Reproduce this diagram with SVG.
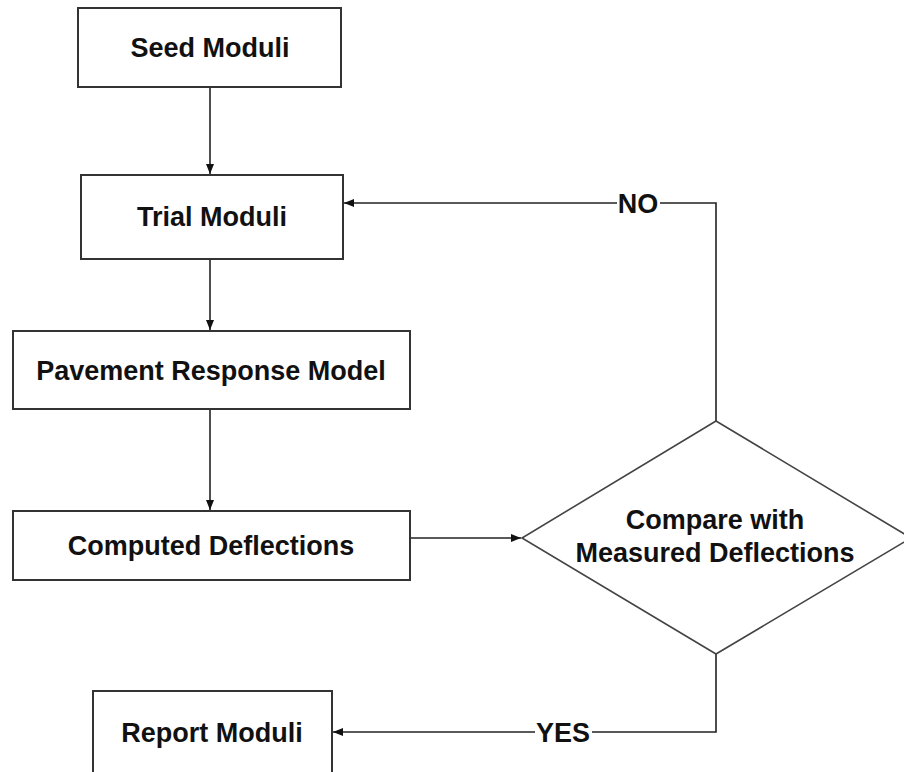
<svg xmlns="http://www.w3.org/2000/svg" width="904" height="772" viewBox="0 0 904 772">
<style>
.box{fill:#fff;stroke:#333;stroke-width:2}
.dia{fill:#fff;stroke:#444;stroke-width:1.6}
.ln{fill:none;stroke:#222;stroke-width:1.6}
text{font-family:"Liberation Sans",Arial,sans-serif;font-weight:bold;font-size:27px;fill:#111;text-anchor:middle}
</style>
<defs>
<marker id="ah" viewBox="0 0 10 10" refX="10" refY="5" markerWidth="10" markerHeight="10" markerUnits="userSpaceOnUse" orient="auto">
<path d="M0,1 L10,5 L0,9 Z" fill="#111"/>
</marker>
</defs>
<rect width="904" height="772" fill="#fff"/>
<g id="connectors">
<line class="ln" x1="210" y1="88" x2="210" y2="174" marker-end="url(#ah)"/>
<line class="ln" x1="210" y1="260" x2="210" y2="330" marker-end="url(#ah)"/>
<line class="ln" x1="210" y1="409" x2="210" y2="510" marker-end="url(#ah)"/>
<line class="ln" x1="411" y1="538" x2="521" y2="538" marker-end="url(#ah)"/>
<polyline class="ln" points="716,421 716,203 660,203"/>
<line class="ln" x1="617" y1="203" x2="344" y2="203" marker-end="url(#ah)"/>
<polyline class="ln" points="716,654 716,732 592,732"/>
<line class="ln" x1="535" y1="732" x2="333" y2="732" marker-end="url(#ah)"/>
<text x="638" y="213">NO</text>
<text x="563" y="742">YES</text>
</g>
<g id="seed">
<rect class="box" x="78" y="8" width="263" height="79"/>
<text x="210" y="57">Seed Moduli</text>
</g>
<g id="trial">
<rect class="box" x="81" y="175" width="262" height="84"/>
<text x="212" y="226">Trial Moduli</text>
</g>
<g id="pavement">
<rect class="box" x="13" y="331" width="397" height="78"/>
<text x="211" y="380">Pavement Response Model</text>
</g>
<g id="computed">
<rect class="box" x="13" y="511" width="397" height="69"/>
<text x="211" y="555">Computed Deflections</text>
</g>
<g id="compare">
<polygon class="dia" points="716,421 911,538 716,654 522,538"/>
<text x="715" y="529">Compare with</text>
<text x="715" y="562">Measured Deflections</text>
</g>
<g id="report">
<rect class="box" x="93" y="691" width="239" height="84"/>
<text x="212" y="742">Report Moduli</text>
</g>
</svg>
